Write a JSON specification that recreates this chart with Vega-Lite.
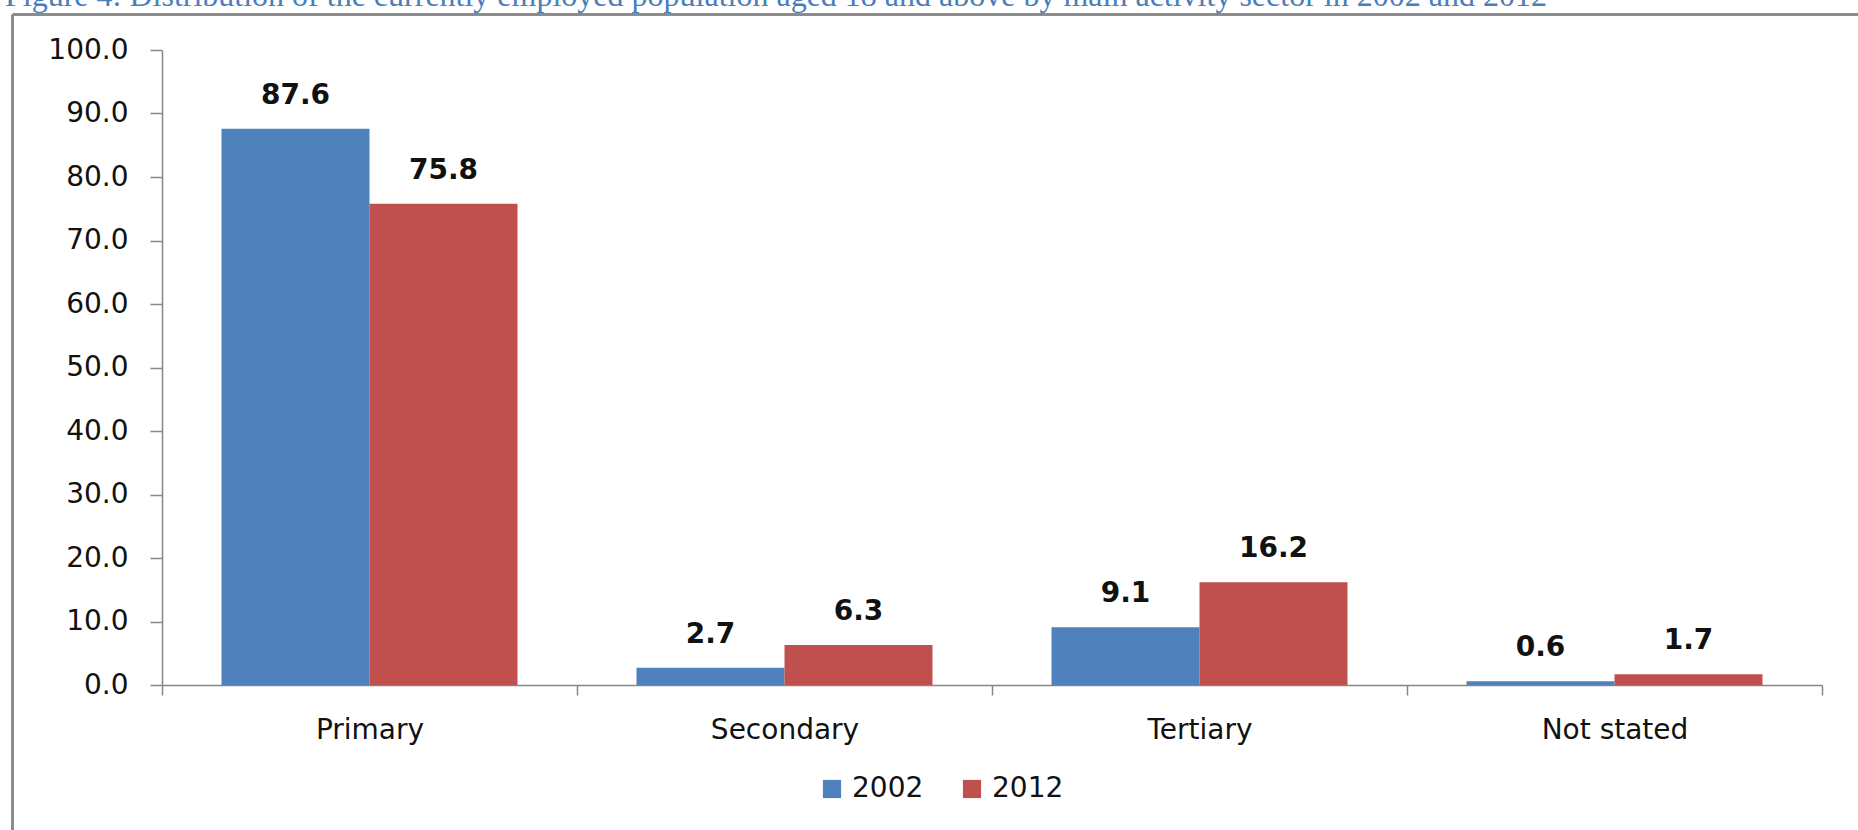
{
  "$schema": "https://vega.github.io/schema/vega-lite/v6.json",
  "autosize": "none",
  "width": 1846,
  "height": 816,
  "padding": {"left": 12, "top": 14, "right": 0, "bottom": 0},
  "background": "white",
  "title": {
    "text": "Figure 4: Distribution of the currently employed population aged 18 and above by main activity sector in 2002 and 2012",
    "anchor": "start",
    "frame": "group",
    "font": "Liberation Serif",
    "fontSize": 32,
    "fontWeight": "normal",
    "color": "#4A7EBB",
    "baseline": "alphabetic",
    "offset": 0,
    "dx": -7,
    "dy": 24
  },
  "data": {
    "values": [
      {"sector": "Primary", "year": "2002", "value": 87.6},
      {"sector": "Primary", "year": "2012", "value": 75.8},
      {"sector": "Secondary", "year": "2002", "value": 2.7},
      {"sector": "Secondary", "year": "2012", "value": 6.3},
      {"sector": "Tertiary", "year": "2002", "value": 9.1},
      {"sector": "Tertiary", "year": "2012", "value": 16.2},
      {"sector": "Not stated", "year": "2002", "value": 0.6},
      {"sector": "Not stated", "year": "2012", "value": 1.7}
    ]
  },
  "layer": [
    {
      "encoding": {
        "x": {
          "field": "sector",
          "type": "nominal",
          "sort": null,
          "scale": {"range": [150, 1810], "paddingInner": 0, "paddingOuter": 0},
          "axis": {
            "title": null,
            "orient": "bottom",
            "offset": -145,
            "labelAngle": 0,
            "tickBand": "extent",
            "tickSize": 10,
            "tickColor": "#868686",
            "tickWidth": 1.5,
            "domainColor": "#868686",
            "domainWidth": 1.5,
            "labelPadding": 21,
            "labelFont": "DejaVu Sans",
            "labelFontSize": 28,
            "labelColor": "#111111",
            "grid": false
          }
        },
        "xOffset": {"field": "year", "type": "nominal", "scale": {"paddingInner": 0, "paddingOuter": 0.402}},
        "y": {
          "field": "value",
          "type": "quantitative",
          "scale": {"domain": [0, 100], "range": [671, 36], "nice": false, "zero": true},
          "axis": {
            "title": null,
            "orient": "left",
            "offset": -150,
            "values": [0, 10, 20, 30, 40, 50, 60, 70, 80, 90, 100],
            "format": ".1f",
            "tickSize": 12,
            "tickColor": "#868686",
            "tickWidth": 1.5,
            "domainColor": "#868686",
            "domainWidth": 1.5,
            "labelPadding": 22,
            "labelFont": "DejaVu Sans",
            "labelFontSize": 28,
            "labelColor": "#111111",
            "grid": false
          }
        }
      },
      "layer": [
        {
          "mark": {"type": "bar"},
          "encoding": {
            "color": {
              "field": "year",
              "type": "nominal",
              "scale": {"domain": ["2002", "2012"], "range": ["#4F81BD", "#C0504D"]},
              "legend": {
                "title": null,
                "orient": "none",
                "legendX": 806,
                "legendY": 761,
                "direction": "horizontal",
                "symbolType": "square",
                "symbolSize": 330,
                "symbolStrokeWidth": 0,
                "symbolOpacity": 1,
                "labelFont": "DejaVu Sans",
                "labelFontSize": 28,
                "labelColor": "#111111",
                "labelOffset": 6,
                "columnPadding": 34
              }
            }
          }
        },
        {
          "mark": {
            "type": "text",
            "baseline": "alphabetic",
            "dy": -25,
            "font": "DejaVu Sans",
            "fontSize": 28,
            "fontWeight": "bold",
            "color": "#111111"
          },
          "encoding": {
            "text": {"field": "value", "type": "quantitative", "format": ".1f"}
          }
        }
      ]
    },
    {
      "mark": {"type": "point", "opacity": 0},
      "encoding": {
        "x": {
          "field": "value",
          "type": "quantitative",
          "scale": {"domain": [0, 100], "nice": false},
          "axis": {"orient": "top", "offset": 0, "title": null, "labels": false, "ticks": false, "grid": false, "domainColor": "#8c8c8c", "domainWidth": 3}
        },
        "y": {
          "field": "value",
          "type": "quantitative",
          "scale": {"domain": [0, 100], "nice": false},
          "axis": {"orient": "left", "offset": 0, "title": null, "labels": false, "ticks": false, "grid": false, "domainColor": "#8c8c8c", "domainWidth": 3}
        }
      }
    }
  ],
  "resolve": {
    "scale": {"x": "independent", "y": "independent"},
    "axis": {"x": "independent", "y": "independent"}
  },
  "config": {
    "view": {"stroke": null, "fill": "white"}
  }
}
